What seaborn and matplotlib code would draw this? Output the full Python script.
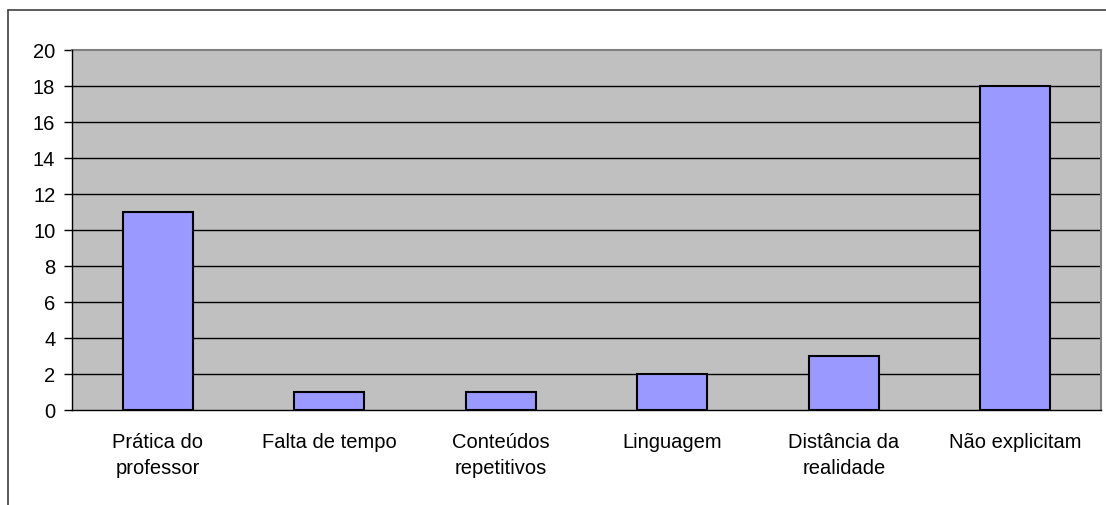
import pandas as pd
import matplotlib.pyplot as plt
import seaborn as sns
from matplotlib.lines import Line2D

# dados do gráfico
categorias = ['Prática do\nprofessor', 'Falta de tempo', 'Conteúdos\nrepetitivos',
              'Linguagem', 'Distância da\nrealidade', 'Não explicitam']
valores = [11, 1, 1, 2, 3, 18]
yticks = [0, 2, 4, 6, 8, 10, 12, 14, 16, 18, 20]

sns.set_theme(style="white")
plt.rcParams['font.family'] = ['Liberation Sans', 'DejaVu Sans']

df = pd.DataFrame({'categoria': categorias, 'valor': valores})

fig = plt.figure(figsize=(11.06, 5.06), dpi=100)
ax = fig.add_axes([72 / 1106, 95 / 506, 1029 / 1106, 360 / 506])
ax.set_facecolor('#C0C0C0')

sns.barplot(data=df, x='categoria', y='valor', color='#9999FF', width=0.41,
            edgecolor='black', linewidth=1.5, saturation=1, ax=ax, zorder=3)

ax.set_xlim(-0.5, len(categorias) - 0.5)
ax.set_ylim(0, 20)
ax.set_yticks(yticks)
ax.set_yticklabels([str(v) for v in yticks], fontsize=14.5)
ax.set_xticks(range(len(categorias)))
ax.set_xticklabels(categorias, fontsize=14.5, linespacing=1.45)
ax.set_xlabel('')
ax.set_ylabel('')

# linhas de grade pretas (menos no topo)
for v in yticks[1:-1]:
    ax.axhline(v, color='black', linewidth=1, zorder=1)

# ticks nas divisões das categorias
ax.set_xticks([i - 0.5 for i in range(len(categorias) + 1)], minor=True)
ax.tick_params(axis='x', which='major', length=0, pad=16)
ax.tick_params(axis='x', which='minor', length=6, width=1, color='black', direction='out')
ax.tick_params(axis='y', length=6, width=1, color='black', direction='out', pad=6, left=True)
ax.tick_params(colors='black')

for s in ['top', 'right']:
    ax.spines[s].set_color('#808080')
    ax.spines[s].set_linewidth(1.5)
for s in ['left', 'bottom']:
    ax.spines[s].set_color('black')
    ax.spines[s].set_linewidth(1)
    ax.spines[s].set_zorder(4)

# moldura externa do gráfico
y_top = 1 - 11 / 506
x_left = 8 / 1106
fig.add_artist(Line2D([x_left, 1], [y_top, y_top], transform=fig.transFigure,
                      color='#404040', linewidth=1.2))
fig.add_artist(Line2D([x_left, x_left], [0, y_top], transform=fig.transFigure,
                      color='#404040', linewidth=1.2))

plt.savefig('out.png', dpi=100)
plt.close()
